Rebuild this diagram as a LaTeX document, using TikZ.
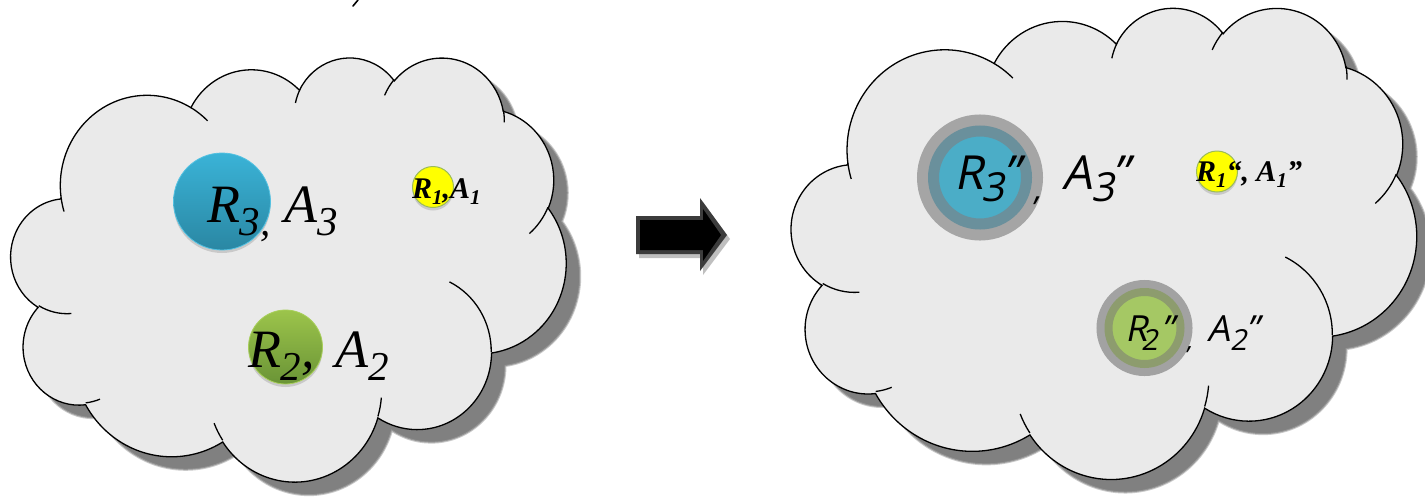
\documentclass[tikz,border=0pt]{standalone}
\usepackage{fontspec}
\setmainfont{Liberation Serif}
\newfontfamily\osans[FakeSlant=0.2]{Open Sans}
\usetikzlibrary{shadows}
\definecolor{cloudfill}{HTML}{EAEAEA}
\definecolor{cloudshadow}{HTML}{808080}
\definecolor{rthreetop}{HTML}{3AB3D7}
\definecolor{rthreebot}{HTML}{2A87A3}
\definecolor{rthreerim}{HTML}{54C2E2}
\definecolor{rtwotop}{HTML}{9CC44B}
\definecolor{rtwobot}{HTML}{6A9436}
\definecolor{rtworim}{HTML}{A8CF5A}
\definecolor{yel}{HTML}{FFFF00}
\definecolor{yelrim}{HTML}{9BBB59}
\definecolor{dthreeout}{HTML}{A5A5A5}
\definecolor{dthreering}{HTML}{6A909C}
\definecolor{dthreein}{HTML}{4BADC7}
\definecolor{dtwoout}{HTML}{A2A2A2}
\definecolor{dtworing}{HTML}{8D9C6E}
\definecolor{dtwoin}{HTML}{A5C864}
\definecolor{arrowedge}{HTML}{3C3C3C}
\newcommand\lowsub[3]{\raisebox{-#1}{\fontsize{#2}{#2}\selectfont #3}}
\newcommand\putat[2]{\makebox[0pt][l]{\hspace*{#1}#2}}
\tikzset{
  cloudoutline/.style={insert path={
    (39,143.7)
    arc[start angle=-187.745, delta angle=128.107, x radius=67.53, y radius=91.90]
    arc[start angle=-152.033, delta angle=106.586, x radius=53.33, y radius=72.67]
    arc[start angle=-153.496, delta angle=116.186, x radius=43.65, y radius=59.45]
    arc[start angle=-139.705, delta angle=129.494, x radius=48.57, y radius=65.95]
    arc[start angle=-74.768, delta angle=97.979, x radius=53.33, y radius=72.73]
    arc[start angle=-37.509, delta angle=119.372, x radius=67.75, y radius=92.20]
    arc[start angle=0.460, delta angle=121.513, x radius=57.85, y radius=78.67]
    arc[start angle=16.844, delta angle=129.371, x radius=67.52, y radius=92.15]
    arc[start angle=58.983, delta angle=91.200, x radius=77.20, y radius=105.43]
    arc[start angle=83.306, delta angle=139.811, x radius=43.60, y radius=59.18]
    arc[start angle=120.356, delta angle=143.756, x radius=43.45, y radius=59.45]
    -- cycle}},
  cloudinner/.style={insert path={
    (46.93,261.77) arc[start angle=85.546, delta angle=34.810, x radius=43.45, y radius=59.45]
    (69.28,348.99) arc[start angle=68.235, delta angle=15.069, x radius=43.60, y radius=59.18]
    (164.78,390.90) arc[start angle=146.216, delta angle=12.257, x radius=67.52, y radius=92.15]
    (288.27,347.51) arc[start angle=4.737, delta angle=12.107, x radius=67.52, y radius=92.15]
    (341.29,229.54) arc[start angle=-64.027, delta angle=64.487, x radius=57.85, y radius=78.67]
    (417.98,153.54) arc[start angle=23.211, delta angle=26.434, x radius=53.33, y radius=72.73]
    (383.24,54.26) arc[start angle=-10.211, delta angle=11.032, x radius=48.57, y radius=65.95]
    (290.78,39.52) arc[start angle=-156.292, delta angle=16.587, x radius=48.57, y radius=65.95]
    (221.41,47.20) arc[start angle=-167.725, delta angle=14.229, x radius=43.65, y radius=59.45]
    (140.00,51.92) arc[start angle=-59.638, delta angle=13.908, x radius=67.53, y radius=91.90]
    (41.27,157.89) arc[start angle=163.192, delta angle=9.063, x radius=67.53, y radius=91.90]
  }},
  cloudshadowstyle/.style={fill=cloudshadow, draw=cloudshadow!70, line width=2pt, draw opacity=0.6},
  cloudbody/.style={fill=cloudfill, draw=black, line width=1.3pt},
  cloudlines/.style={draw=black, line width=1.3pt},
  leftcloud/.style={x=1.28472pt, y=-0.98148pt},
  rightcloud/.style={x=1.44676pt, y=-1.09028pt},
  lbl/.style={anchor=base west, inner sep=0pt, outer sep=0pt},
  ball/.style={circle, inner sep=0pt, outer sep=0pt},
  softshadow/.style={drop shadow={shadow xshift=0pt, shadow yshift=-3pt, opacity=0.3}},
}
\begin{document}
\begin{tikzpicture}[x=1pt, y=-1pt]
\useasboundingbox (0,0) rectangle (1425,496);
\fill[white] (0,0) rectangle (1425,496);

% stray mark at top
\draw[line width=1.6pt, line cap=round] (353,6) -- (358,0);

% left cloud
\begin{scope}[shift={(25,69.6)}, leftcloud]
  \path[cloudshadowstyle, cloudoutline];
\end{scope}
\begin{scope}[shift={(11,56.6)}, leftcloud]
  \path[cloudbody, cloudoutline];
  \path[cloudlines, cloudinner];
\end{scope}

% right cloud
\begin{scope}[shift={(805.5,19.8)}, rightcloud]
  \path[cloudshadowstyle, cloudoutline];
\end{scope}
\begin{scope}[shift={(791.5,6.8)}, rightcloud]
  \path[cloudbody, cloudoutline];
  \path[cloudlines, cloudinner];
\end{scope}

% arrow
\fill[black, opacity=0.25] (639,220) -- (703,220) -- (703,202) -- (730,239) -- (703,275) -- (703,258) -- (639,258) -- cycle;
\fill[arrowedge] (636,216) -- (700,216) -- (700,198) -- (727,235) -- (700,271) -- (700,254) -- (636,254) -- cycle;
\fill[black] (640,220) -- (703,220) -- (703,209) -- (721,235) -- (703,261) -- (703,250) -- (640,250) -- cycle;

% left circles
\node[ball, minimum size=97pt, top color=rthreetop, bottom color=rthreebot, draw=rthreerim, line width=0.8pt, softshadow] (c3) at (222,201.5) {};
\node[ball, minimum size=74pt, top color=rtwotop, bottom color=rtwobot, draw=rtworim, line width=0.8pt, softshadow] (c2) at (285.5,347) {};
\node[ball, minimum size=41pt, fill=yel, draw=yelrim, line width=1pt, softshadow] (c1) at (433,187) {};

% right circles
\node[ball, minimum size=93pt, fill=dthreein, draw=dthreering, line width=11pt, preaction={draw=dthreeout, line width=33pt}] (d3) at (980,177.5) {};
\node[ball, minimum size=72pt, fill=dtwoin, draw=dtworing, line width=8pt, preaction={draw=dtwoout, line width=24pt}] (d2) at (1144.5,328) {};
\node[ball, minimum size=41pt, fill=yel, draw=yelrim, line width=1pt, softshadow] (d1) at (1217,171.5) {};

% left labels
\node[lbl, font=\fontsize{54}{54}\selectfont\itshape] (t3) at (207,222) {R\lowsub{13pt}{41}{3,}\ A\lowsub{13pt}{41}{3}};
\node[lbl, font=\fontsize{54}{54}\selectfont\itshape] (t2) at (248,367) {R\lowsub{13pt}{41}{2},\hspace{7pt} A\lowsub{13pt}{41}{2}};
\node[lbl, font=\fontsize{30}{30}\selectfont\bfseries\itshape] (t1) at (412,198) {R\lowsub{6pt}{21}{1},A\lowsub{6pt}{21}{1}};

% right labels
\node[lbl, font=\fontsize{47}{47}\selectfont\osans] (u3) at (954,189) {\putat{0pt}{R}\putat{27pt}{\lowsub{12pt}{40}{3}}\putat{49pt}{”}\putat{79pt}{\lowsub{11pt}{32}{,}}\putat{108pt}{A}\putat{137pt}{\lowsub{12pt}{40}{3}}\putat{158pt}{”}\hspace*{180pt}};
\node[lbl, font=\fontsize{36}{36}\selectfont\osans] (u2) at (1125,341) {\putat{0pt}{R}\putat{16pt}{\lowsub{9pt}{29}{2}}\putat{36pt}{”}\putat{61pt}{\lowsub{8pt}{25}{,}}\putat{82pt}{A}\putat{105pt}{\lowsub{9pt}{29}{2}}\putat{121pt}{”}\hspace*{140pt}};
\node[lbl, font=\fontsize{30}{30}\selectfont\bfseries\itshape] (u1) at (1196,181) {R\lowsub{6pt}{21}{1}“, A\lowsub{6pt}{21}{1}”};
\end{tikzpicture}
\end{document}
